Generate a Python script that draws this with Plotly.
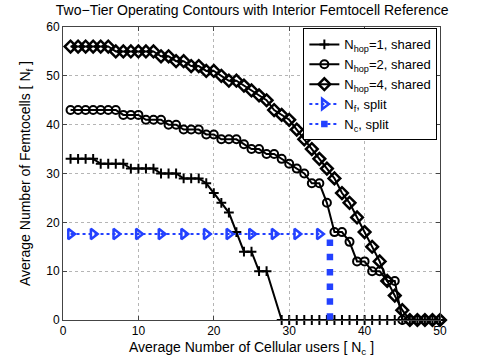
import plotly.graph_objects as go

# =====================================================
# DATA
# =====================================================

nc = list(range(1, 51))

nhop1_x = list(range(1, 28)) + list(range(29, 51))
nhop1_y = [33, 33, 33, 33, 32, 32, 32, 32, 31, 31, 31, 31, 30, 30, 30,
           29, 29, 29, 28, 26, 24, 22, 18, 14, 14, 10, 10] + [0] * 22

nhop2_y = [43, 43, 43, 43, 43, 43, 43, 42, 42, 42, 41, 41, 41, 40, 40,
           39, 39, 39, 38, 38, 37, 37, 37, 36, 35, 35, 34, 34, 33, 32,
           31, 30, 28, 28, 24, 18, 18, 16, 12, 12, 10, 10, 8, 8, 0,
           0, 0, 0, 0, 0]

nhop4_y = [56, 56, 56, 56, 56, 56, 55, 55, 55, 55, 55, 55, 54, 54, 53,
           53, 52, 52, 51, 51, 50, 49, 49, 48, 47, 46, 45, 43, 42, 41,
           39, 37, 35, 33, 31, 29, 26, 24, 21, 18, 15, 12, 8, 5, 2,
           0, 0, 0, 0, 0]

nf_split_x = [1, 4, 7, 10, 13, 16, 19, 22, 25, 28, 31, 34]
nf_split_y = [17.6] * 12

nc_split_x = [35.4, 35.4, 35.4, 35.4, 35.4, 35.4]
nc_split_y = [15.8, 12.9, 9.8, 6.8, 3.8, 0.7]

BLUE = "rgb(35,65,255)"

# =====================================================
# FIGURE
# =====================================================

fig = go.Figure()

fig.add_trace(go.Scatter(
    x=nhop1_x, y=nhop1_y, mode="lines+markers",
    name="N<sub>hop</sub>=1, shared",
    line=dict(color="black", width=2),
    marker=dict(symbol="cross-thin", size=7,
                line=dict(color="black", width=2)),
    cliponaxis=False
))

fig.add_trace(go.Scatter(
    x=nc, y=nhop2_y, mode="lines+markers",
    name="N<sub>hop</sub>=2, shared",
    line=dict(color="black", width=2),
    marker=dict(symbol="circle-open", size=8,
                line=dict(color="black", width=2)),
    cliponaxis=False
))

fig.add_trace(go.Scatter(
    x=nc, y=nhop4_y, mode="lines+markers",
    name="N<sub>hop</sub>=4, shared",
    line=dict(color="black", width=2),
    marker=dict(symbol="diamond-open", size=9,
                line=dict(color="black", width=2.5)),
    cliponaxis=False
))

fig.add_trace(go.Scatter(
    x=nf_split_x, y=nf_split_y, mode="lines+markers",
    name="N<sub>f</sub>, split",
    line=dict(color=BLUE, width=2, dash="dot"),
    marker=dict(symbol="triangle-right-open", size=9,
                line=dict(color=BLUE, width=2.5)),
    cliponaxis=False
))

# Nc split: squares on the plot, dotted line + marker in the legend
fig.add_trace(go.Scatter(
    x=nc_split_x, y=nc_split_y, mode="markers",
    showlegend=False,
    marker=dict(symbol="square-dot", size=5, color=BLUE,
                line=dict(color=BLUE, width=1.5)),
    cliponaxis=False
))

fig.add_trace(go.Scatter(
    x=[None], y=[None], mode="lines+markers",
    name="N<sub>c</sub>, split",
    line=dict(color=BLUE, width=2, dash="dot"),
    marker=dict(symbol="square-dot", size=5, color=BLUE,
                line=dict(color=BLUE, width=1.5))
))

# =====================================================
# LAYOUT
# =====================================================

fig.update_layout(
    width=485,
    height=364,
    margin=dict(l=63, r=45, t=27, b=41),
    paper_bgcolor="white",
    plot_bgcolor="white",
    font=dict(family="Liberation Sans, Arial, sans-serif", size=12,
              color="black"),
    title=dict(
        text="Two\u2212Tier Operating Contours with Interior Femtocell Reference",
        x=0.52, xanchor="center", y=0.972, yanchor="middle",
        font=dict(size=14)
    ),
    showlegend=True,
    hovermode=False,
    legend=dict(
        x=0.993, y=0.995, xanchor="right", yanchor="top",
        bgcolor="white", bordercolor="black", borderwidth=1,
        font=dict(size=13), tracegroupgap=0,
        itemwidth=30
    )
)

fig.update_xaxes(
    range=[0, 50], dtick=10, tick0=0,
    showline=True, linecolor="#444", linewidth=1, mirror="ticks",
    ticks="inside", ticklen=4, tickcolor="#444",
    showgrid=True, gridcolor="#b5b5b5", griddash="dot", gridwidth=1,
    zeroline=False,
    title=dict(text="Average Number of Cellular users [ N<sub>c</sub> ]",
               font=dict(size=14), standoff=4)
)

fig.update_yaxes(
    range=[0, 60], dtick=10, tick0=0,
    showline=True, linecolor="#444", linewidth=1, mirror="ticks",
    ticks="inside", ticklen=4, tickcolor="#444",
    showgrid=True, gridcolor="#b5b5b5", griddash="dot", gridwidth=1,
    zeroline=False,
    title=dict(text="Average Number of Femtocells [ N<sub>f</sub> ]",
               font=dict(size=14), standoff=12)
)

fig.write_html("out.html",
               config={"displayModeBar": False},
               post_script="document.body.style.margin='0';")
